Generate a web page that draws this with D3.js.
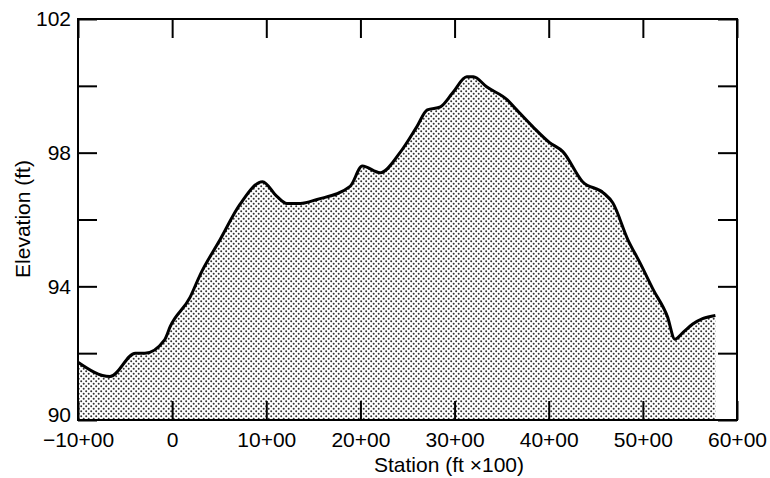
<!DOCTYPE html>
<html>
<head>
<meta charset="utf-8">
<script src="https://cdn.jsdelivr.net/npm/d3@7"></script>
<style>
  body { margin: 0; background: #fff; }
  svg { font-family: "Liberation Sans", Arial, sans-serif; }
</style>
</head>
<body>
<svg></svg>
<script>
// station in hundreds of feet, elevation in feet
let stations = [-10, -6.6, -3.9, -2.9, -0.8, -0.2, 1.9, 3.0, 5.1, 7.2, 9.6, 11.1, 12.2, 13.6, 15.4,
  18.9, 20.2, 22.1, 24.2, 26.0, 27.1, 28.5, 29.8, 31.3, 32.0, 33.4, 35.6, 36.6, 38.3, 40.1,
  41.5, 43.6, 45.8, 46.8, 48.4, 49.7, 51.1, 52.6, 53.4, 54.3, 55.3, 56.4, 57.7];
let elevations = [91.73, 91.3, 92.0, 92.0, 92.4, 92.8, 93.67, 94.36, 95.4, 96.45, 97.13, 96.7, 96.48, 96.48, 96.6,
  96.99, 97.6, 97.4, 98.0, 98.78, 99.28, 99.37, 99.79, 100.27, 100.27, 99.97, 99.58, 99.28, 98.78, 98.3,
  98.03, 97.13, 96.8, 96.5, 95.4, 94.7, 93.9, 93.1, 92.42, 92.63, 92.87, 93.04, 93.13];

let xTicks = [-10, 0, 10, 20, 30, 40, 50, 60];
let yTicks = [90, 92, 94, 96, 98, 100, 102];
let yLabelled = [90, 94, 98, 102];

let width = 770;
let height = 478;
let plotLeft = 78, plotRight = 737, plotTop = 19, plotBottom = 420;

let values = stations.map((s, i) => [s, elevations[i]]);

let svg = d3.select('svg')
    .attr('width', width)
    .attr('height', height)

let xScale = d3.scaleLinear().domain([-10, 60]).range([plotLeft, plotRight])
let yScale = d3.scaleLinear().domain([90, 102]).range([plotBottom, plotTop])

let defs = svg.append('defs')
let pat = defs.append('pattern')
    .attr('id', 'dots')
    .attr('patternUnits', 'userSpaceOnUse')
    .attr('width', 5)
    .attr('height', 5)
pat.append('circle').attr('cx', 1.2).attr('cy', 1.2).attr('r', 1).attr('fill', '#333')
pat.append('circle').attr('cx', 3.7).attr('cy', 3.7).attr('r', 1).attr('fill', '#333')

let area = d3.area()
    .x(d => xScale(d[0]))
    .y0(yScale(90))
    .y1(d => yScale(d[1]))
    .curve(d3.curveMonotoneX)

let line = d3.line()
    .x(d => xScale(d[0]))
    .y(d => yScale(d[1]))
    .curve(d3.curveMonotoneX)

svg.append('path')
   .datum(values)
   .attr('d', area)
   .attr('fill', 'url(#dots)')

svg.append('path')
   .datum(values)
   .attr('d', line)
   .attr('fill', 'none')
   .attr('stroke', '#000')
   .attr('stroke-width', 3)
   .attr('stroke-linejoin', 'round')

// axes, ticks point inwards
let tickLen = 19;
let fmtStation = d => d === 0 ? '0' : (d < 0 ? '\u2212' + Math.abs(d) : d) + '+00';

let xAxis = d3.axisBottom(xScale)
    .tickValues(xTicks)
    .tickSizeInner(-tickLen)
    .tickSizeOuter(0)
    .tickPadding(12)
    .tickFormat(fmtStation)
let xTop = d3.axisTop(xScale)
    .tickValues(xTicks)
    .tickSizeInner(-tickLen)
    .tickSizeOuter(0)
    .tickFormat('')
let yAxis = d3.axisLeft(yScale)
    .tickValues(yTicks)
    .tickSizeInner(-tickLen)
    .tickSizeOuter(0)
    .tickPadding(7)
    .tickFormat(d => yLabelled.includes(d) ? d : '')
let yRight = d3.axisRight(yScale)
    .tickValues(yTicks)
    .tickSizeInner(-tickLen)
    .tickSizeOuter(0)
    .tickFormat('')

let styleAxis = g => {
    g.select('.domain').remove()
    g.selectAll('line').attr('stroke', '#000').attr('stroke-width', 2)
    g.selectAll('text').attr('fill', '#000').attr('font-size', 21).attr('font-family', null)
}

svg.append('g').attr('transform', 'translate(0,' + plotBottom + ')').call(xAxis).call(styleAxis)
svg.append('g').attr('transform', 'translate(0,' + plotTop + ')').call(xTop).call(styleAxis)
let gy = svg.append('g').attr('transform', 'translate(' + plotLeft + ',0)').call(yAxis).call(styleAxis)
// the bottom label sits a little above its line, clear of the station labels
gy.selectAll('.tick').filter(d => d === 90).select('text').attr('y', -5)

svg.append('g').attr('transform', 'translate(' + plotRight + ',0)').call(yRight).call(styleAxis)

svg.append('rect')
   .attr('x', plotLeft)
   .attr('y', plotTop)
   .attr('width', plotRight - plotLeft)
   .attr('height', plotBottom - plotTop)
   .attr('fill', 'none')
   .attr('stroke', '#000')
   .attr('stroke-width', 2)

svg.append('text')
   .attr('x', 449)
   .attr('y', 472)
   .attr('text-anchor', 'middle')
   .attr('font-size', 21)
   .text('Station (ft \u00d7100)')

svg.append('text')
   .attr('transform', 'translate(30,219) rotate(-90)')
   .attr('text-anchor', 'middle')
   .attr('font-size', 21)
   .text('Elevation (ft)')
</script>
</body>
</html>
